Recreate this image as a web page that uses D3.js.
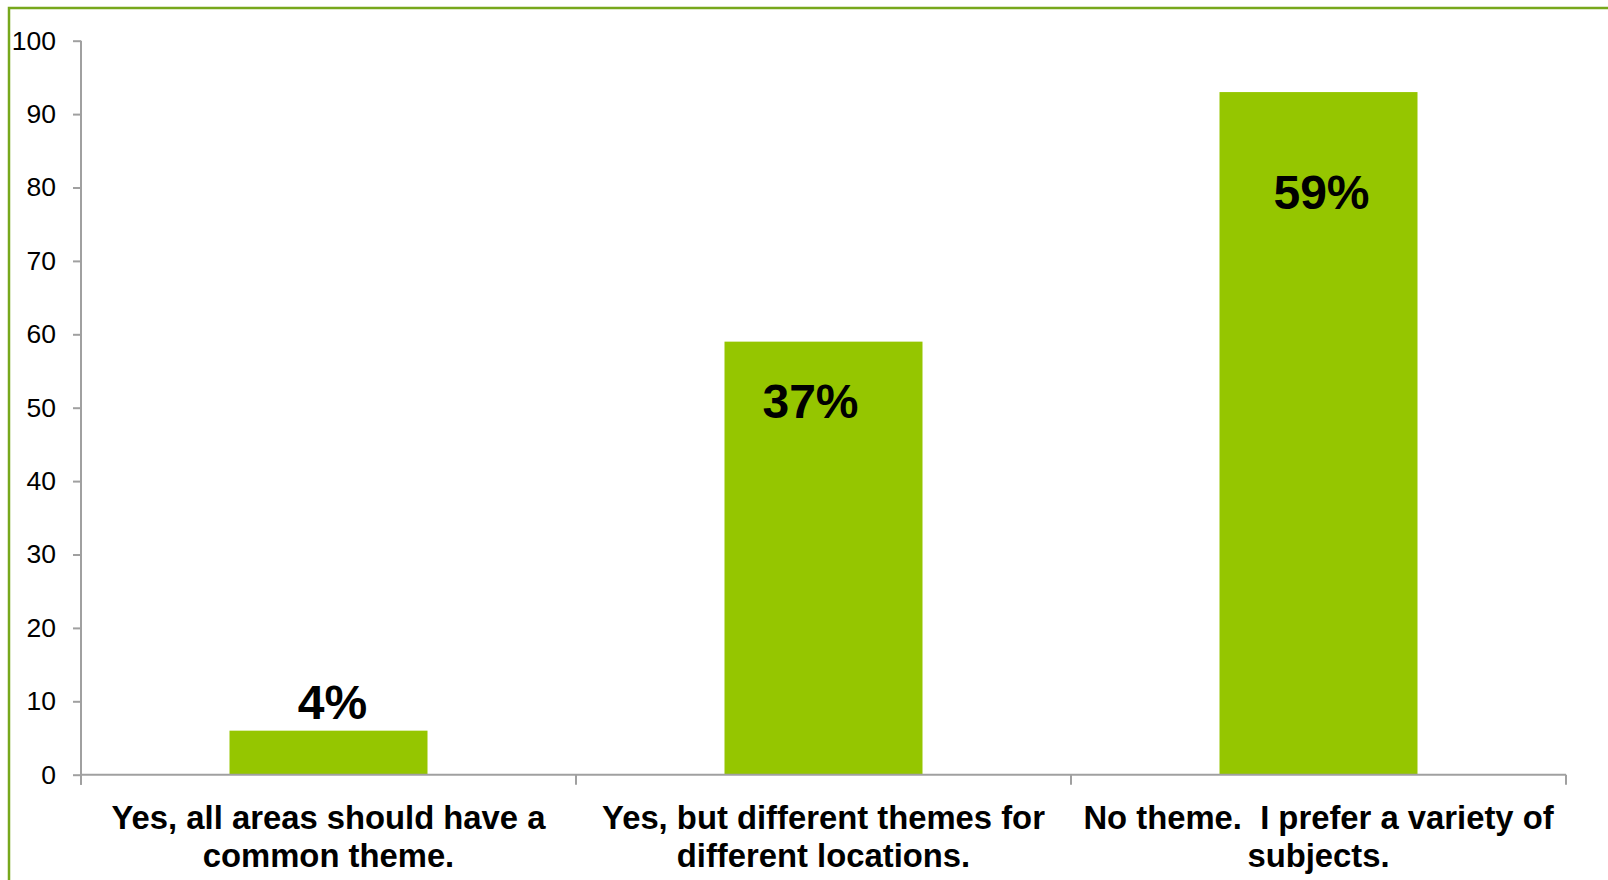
<!DOCTYPE html>
<html>
<head>
<meta charset="utf-8">
<script src="https://cdn.jsdelivr.net/npm/d3@7"></script>
<style>
  html, body { margin: 0; padding: 0; background: #fff; }
  svg { display: block; }
</style>
</head>
<body>
<svg id="chart" width="1608" height="880"></svg>
<script>
// ---- data ----
const categories = ["cat1", "cat2", "cat3"];
const categoryLines = [
  ["Yes, all areas should have a", "common theme."],
  ["Yes, but different themes for", "different locations."],
  ["No theme.  I prefer a variety of", "subjects."]
];
const values = [6, 59, 93];
const valueLabels = ["4%", "37%", "59%"];
const yTicks = [0, 10, 20, 30, 40, 50, 60, 70, 80, 90, 100];

// ---- layout ----
const svg = d3.select("#chart");
const plot = { left: 81, right: 1566, top: 40.7, bottom: 774.7 };
const labelPlace = [ {dx: 4, dy: -12}, {dx: -13, dy: 76}, {dx: 3, dy: 117} ];

// frame
svg.append("rect")
  .attr("x", 9).attr("y", 8)
  .attr("width", 1700).attr("height", 1000)
  .attr("fill", "none")
  .attr("stroke", "#77a81c")
  .attr("stroke-width", 2.5);

const x = d3.scaleBand().domain(categories).range([plot.left, plot.right]).padding(0);
const y = d3.scaleLinear().domain([0, 100]).range([plot.bottom, plot.top]);

// bars
const barW = x.bandwidth() * 0.4;
svg.append("g").selectAll("rect")
  .data(values)
  .join("rect")
  .attr("x", (d, i) => x(categories[i]) + (x.bandwidth() - barW) / 2)
  .attr("y", d => y(d))
  .attr("width", barW)
  .attr("height", d => y(0) - y(d))
  .attr("fill", "#95c600");

// y axis
const yAxis = d3.axisLeft(y).tickValues(yTicks).tickSize(8).tickPadding(17).tickSizeOuter(0);
const gy = svg.append("g").attr("transform", `translate(${plot.left},0)`).call(yAxis);
gy.select(".domain").attr("stroke", "#a0a0a0").attr("stroke-width", 2)
  .attr("d", `M0,${plot.top}V${plot.bottom + 10}`);
gy.selectAll(".tick line").attr("stroke", "#a0a0a0").attr("stroke-width", 2);
gy.selectAll(".tick text")
  .attr("fill", "#000")
  .style("font-family", "'Liberation Sans', Arial, sans-serif")
  .style("font-size", "26.5px");

// x axis
const xAxis = d3.axisBottom(x).tickSize(0).tickFormat("").tickSizeOuter(0);
const gx = svg.append("g").attr("transform", `translate(0,${plot.bottom})`).call(xAxis);
gx.select(".domain").attr("stroke", "#a0a0a0").attr("stroke-width", 2)
  .attr("d", `M${plot.left},0H${plot.right}`);
gx.selectAll(".tick").remove();
// category boundary ticks
const bounds = categories.map(c => x(c)).concat([x(categories[categories.length - 1]) + x.bandwidth()]);
gx.selectAll("line.sep").data(bounds).join("line")
  .attr("class", "sep")
  .attr("x1", d => d).attr("x2", d => d)
  .attr("y1", 0).attr("y2", 10)
  .attr("stroke", "#a0a0a0").attr("stroke-width", 2);

// category labels
const catG = svg.append("g");
categories.forEach((c, i) => {
  const t = catG.append("text")
    .attr("x", x(c) + x.bandwidth() / 2)
    .attr("y", 829)
    .attr("text-anchor", "middle")
    .style("font-family", "'Liberation Sans', Arial, sans-serif")
    .style("font-weight", "bold")
    .style("font-size", "32.8px")
    .attr("fill", "#000");
  categoryLines[i].forEach((line, j) => {
    t.append("tspan")
      .attr("x", x(c) + x.bandwidth() / 2)
      .attr("dy", j === 0 ? 0 : 37.5)
      .attr("xml:space", "preserve")
      .style("white-space", "pre")
      .text(line);
  });
});

// value labels
svg.append("g").selectAll("text")
  .data(values)
  .join("text")
  .attr("x", (d, i) => x(categories[i]) + x.bandwidth() / 2 + labelPlace[i].dx)
  .attr("y", (d, i) => y(d) + labelPlace[i].dy)
  .attr("text-anchor", "middle")
  .style("font-family", "'Liberation Sans', Arial, sans-serif")
  .style("font-weight", "bold")
  .style("font-size", "48px")
  .attr("fill", "#000")
  .text((d, i) => valueLabels[i]);
</script>
</body>
</html>
